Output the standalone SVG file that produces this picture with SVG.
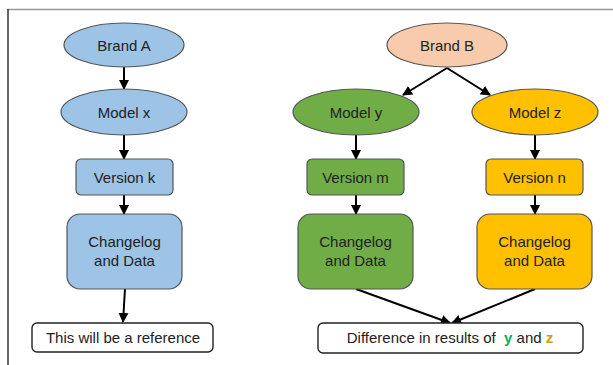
<svg xmlns="http://www.w3.org/2000/svg" width="613" height="365" viewBox="0 0 613 365">
<defs>
<marker id="ah" viewBox="0 0 10 10" refX="9" refY="5" markerWidth="10" markerHeight="10" markerUnits="userSpaceOnUse" orient="auto">
<path d="M0,0 L10,5 L0,10 z" fill="#000"/>
</marker>
<style>
text{font-family:"Liberation Sans",Arial,sans-serif;font-size:15px;fill:#222;text-anchor:middle}
.sh{stroke:#555;stroke-width:1.2}
.blue{fill:#9DC3E6}
.peach{fill:#F8CBAD}
.green{fill:#70AD47}
.yellow{fill:#FFC000}
.white{fill:#fff;stroke:#222;stroke-width:1.4}
.con{stroke:#000;stroke-width:2;fill:none;marker-end:url(#ah)}
</style>
</defs>
<rect width="613" height="365" fill="#fff"/>
<line x1="7" y1="9.5" x2="613" y2="9.5" stroke="#999" stroke-width="1.5"/>
<line x1="8" y1="9" x2="8" y2="365" stroke="#333" stroke-width="1.5"/>

<g id="connectors">
<line class="con" x1="124" y1="67" x2="124" y2="89"/>
<line class="con" x1="124" y1="135" x2="124" y2="159"/>
<line class="con" x1="124" y1="195" x2="124" y2="214"/>
<line class="con" x1="125" y1="289" x2="123" y2="322"/>
<line class="con" x1="447" y1="68" x2="403" y2="95"/>
<line class="con" x1="447" y1="68" x2="490" y2="95"/>
<line class="con" x1="356" y1="135" x2="356" y2="159"/>
<line class="con" x1="535" y1="135" x2="535" y2="159"/>
<line class="con" x1="356" y1="195" x2="356" y2="214"/>
<line class="con" x1="535" y1="195" x2="535" y2="214"/>
<line class="con" x1="356" y1="289" x2="450" y2="323"/>
<line class="con" x1="535" y1="289" x2="452" y2="323"/>
</g>

<g id="brandA"><ellipse class="blue sh" cx="124" cy="45" rx="60" ry="22"/><text x="124" y="50.5">Brand A</text></g>
<g id="modelX"><ellipse class="blue sh" cx="124" cy="112" rx="63" ry="23"/><text x="124" y="117.5">Model x</text></g>
<g id="versionK"><rect class="blue sh" x="76" y="159" width="97" height="36" rx="5"/><text x="124.5" y="182.5">Version k</text></g>
<g id="changelogA"><rect class="blue sh" x="67" y="214" width="115" height="75" rx="13"/><text x="124.5" y="247">Changelog</text><text x="124.5" y="266">and Data</text></g>
<g id="reference"><rect class="white" x="32" y="323" width="181" height="29" rx="5"/><text x="123" y="343">This will be a reference</text></g>

<g id="brandB"><ellipse class="peach sh" cx="447" cy="45" rx="60" ry="22"/><text x="447" y="50.5">Brand B</text></g>
<g id="modelY"><ellipse class="green sh" cx="356" cy="112" rx="63" ry="23"/><text x="356" y="117.5">Model y</text></g>
<g id="modelZ"><ellipse class="yellow sh" cx="535" cy="112" rx="63" ry="23"/><text x="535" y="117.5">Model z</text></g>
<g id="versionM"><rect class="green sh" x="307" y="159" width="97" height="36" rx="5"/><text x="355.5" y="182.5">Version m</text></g>
<g id="versionN"><rect class="yellow sh" x="486" y="159" width="97" height="36" rx="5"/><text x="534.5" y="182.5">Version n</text></g>
<g id="changelogY"><rect class="green sh" x="298" y="214" width="115" height="75" rx="13"/><text x="355.5" y="247">Changelog</text><text x="355.5" y="266">and Data</text></g>
<g id="changelogZ"><rect class="yellow sh" x="477" y="214" width="115" height="75" rx="13"/><text x="534.5" y="247">Changelog</text><text x="534.5" y="266">and Data</text></g>
<g id="difference"><rect class="white" x="318" y="323" width="265" height="30" rx="5"/><text x="450" y="343" xml:space="preserve">Difference in results of  <tspan fill="#00B050" font-weight="bold">y</tspan> and <tspan fill="#C9A000" font-weight="bold">z</tspan></text></g>
</svg>
